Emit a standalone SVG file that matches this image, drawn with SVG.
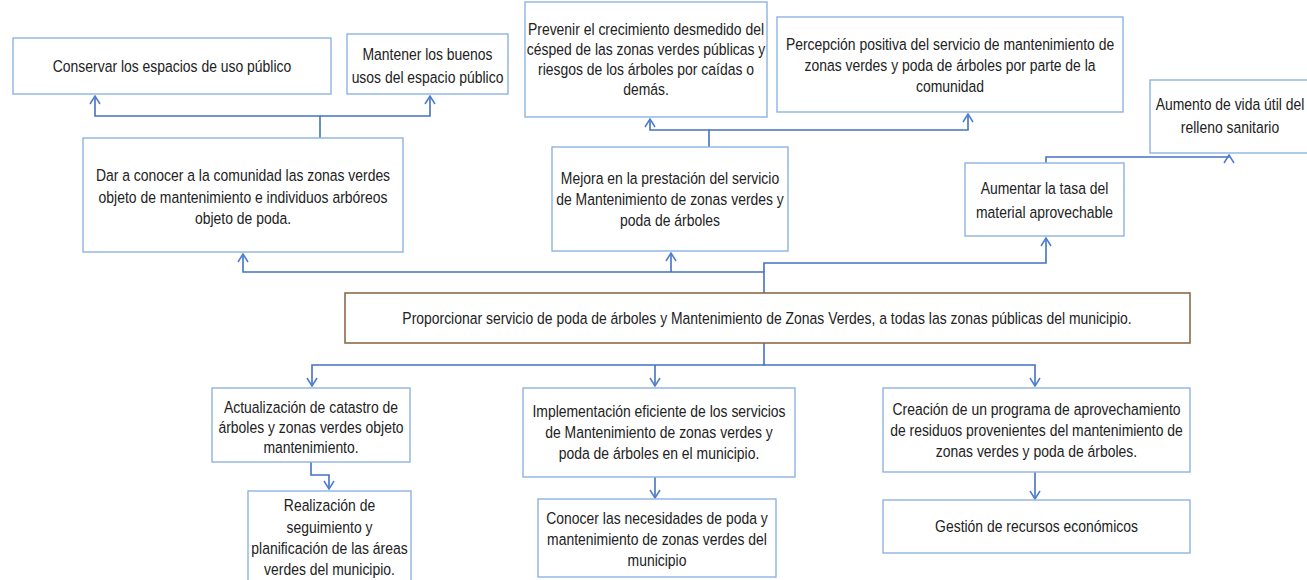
<svg xmlns="http://www.w3.org/2000/svg" width="1307" height="580" viewBox="0 0 1307 580">
<style>
.box{fill:#fff;stroke:#8DB3E2;stroke-width:1.4}
.main{fill:#fff;stroke:#8C6A4A;stroke-width:1.6}
text{font-family:"Liberation Sans Narrow","Liberation Sans",Arial,sans-serif;font-size:17px;fill:#222;text-anchor:middle}
.c{fill:none;stroke:#4472C4;stroke-width:1.6}
</style>
<defs>
<marker id="ah" viewBox="0 0 10 12" refX="9" refY="6" markerWidth="10" markerHeight="12" markerUnits="userSpaceOnUse" orient="auto">
<path d="M1,1 L9,6 L1,11" fill="none" stroke="#4A7BD0" stroke-width="1.5"/>
</marker>
</defs>
<rect width="1307" height="580" fill="#fff"/>
<g id="connectors">
<path class="c" d="M320,138 V116 H95 V96" marker-end="url(#ah)"/>
<path class="c" d="M320,116 H430 V96" marker-end="url(#ah)"/>
<path class="c" d="M709,147 V130 H650 V119" marker-end="url(#ah)"/>
<path class="c" d="M709,130 H968 V114" marker-end="url(#ah)"/>
<path class="c" d="M1046,163 V157 H1229 V155" marker-end="url(#ah)"/>
<path class="c" d="M764,293 V272 H243 V254" marker-end="url(#ah)"/>
<path class="c" d="M671,272 V253" marker-end="url(#ah)"/>
<path class="c" d="M764,272 V263 H1046 V238" marker-end="url(#ah)"/>
<path class="c" d="M764,343 V365 H312 V386" marker-end="url(#ah)"/>
<path class="c" d="M764,365 H1035 V386" marker-end="url(#ah)"/>
<path class="c" d="M655,365 V386" marker-end="url(#ah)"/>
<path class="c" d="M311,462 V475 H329 V489" marker-end="url(#ah)"/>
<path class="c" d="M655,477 V498" marker-end="url(#ah)"/>
<path class="c" d="M1035,472 V499" marker-end="url(#ah)"/>
</g>
<g id="n-conservar"><rect class="box" x="13" y="38" width="318" height="56"/><g transform="translate(172,0) scale(0.82,1)"><text x="0" y="72">Conservar los espacios de uso público</text></g></g>
<g id="n-mantener"><rect class="box" x="347" y="34" width="161" height="60"/><g transform="translate(427.5,0) scale(0.82,1)"><text x="0" y="60">Mantener los buenos</text><text x="0" y="83">usos del espacio público</text></g></g>
<g id="n-prevenir"><rect class="box" x="525" y="2" width="242" height="115"/><g transform="translate(646,0) scale(0.82,1)"><text x="0" y="35">Prevenir el crecimiento desmedido del</text><text x="0" y="55">césped de las zonas verdes públicas y</text><text x="0" y="75">riesgos de los árboles por caídas o</text><text x="0" y="95">demás.</text></g></g>
<g id="n-percepcion"><rect class="box" x="777" y="17" width="346" height="95"/><g transform="translate(950,0) scale(0.82,1)"><text x="0" y="50">Percepción positiva del servicio de mantenimiento de</text><text x="0" y="71">zonas verdes y poda de árboles por parte de la</text><text x="0" y="92">comunidad</text></g></g>
<g id="n-aumento"><rect class="box" x="1150" y="80" width="170" height="73"/><g transform="translate(1230,0) scale(0.82,1)"><text x="0" y="110">Aumento de vida útil del</text><text x="0" y="133">relleno sanitario</text></g></g>
<g id="n-aumentar"><rect class="box" x="965" y="163" width="159" height="73"/><g transform="translate(1044.5,0) scale(0.82,1)"><text x="0" y="194">Aumentar la tasa del</text><text x="0" y="218">material aprovechable</text></g></g>
<g id="n-dar"><rect class="box" x="83" y="138" width="320" height="114"/><g transform="translate(243,0) scale(0.82,1)"><text x="0" y="181">Dar a conocer a la comunidad las zonas verdes</text><text x="0" y="203">objeto de mantenimiento e individuos arbóreos</text><text x="0" y="224">objeto de poda.</text></g></g>
<g id="n-mejora"><rect class="box" x="552" y="147" width="236" height="104"/><g transform="translate(670,0) scale(0.82,1)"><text x="0" y="184">Mejora en la prestación del servicio</text><text x="0" y="205">de Mantenimiento de zonas verdes y</text><text x="0" y="226">poda de árboles</text></g></g>
<g id="n-central"><rect class="main" x="345" y="293" width="845" height="50"/><g transform="translate(767,0) scale(0.82,1)"><text x="0" y="324">Proporcionar servicio de poda de árboles y Mantenimiento de Zonas Verdes, a todas las zonas públicas del municipio.</text></g></g>
<g id="n-actualizacion"><rect class="box" x="212" y="388" width="198" height="74"/><g transform="translate(311,0) scale(0.82,1)"><text x="0" y="413">Actualización de catastro de</text><text x="0" y="433">árboles y zonas verdes objeto</text><text x="0" y="453">mantenimiento.</text></g></g>
<g id="n-realizacion"><rect class="box" x="248" y="491" width="163" height="95"/><g transform="translate(329.5,0) scale(0.82,1)"><text x="0" y="511">Realización de</text><text x="0" y="533">seguimiento y</text><text x="0" y="554">planificación de las áreas</text><text x="0" y="575">verdes del municipio.</text></g></g>
<g id="n-implementacion"><rect class="box" x="523" y="388" width="272" height="89"/><g transform="translate(659,0) scale(0.82,1)"><text x="0" y="417">Implementación eficiente de los servicios</text><text x="0" y="438">de Mantenimiento de zonas verdes y</text><text x="0" y="459">poda de árboles en el municipio.</text></g></g>
<g id="n-conocer"><rect class="box" x="538" y="499" width="238" height="78"/><g transform="translate(657,0) scale(0.82,1)"><text x="0" y="524">Conocer las necesidades de poda y</text><text x="0" y="545">mantenimiento de zonas verdes del</text><text x="0" y="566">municipio</text></g></g>
<g id="n-creacion"><rect class="box" x="883" y="388" width="307" height="84"/><g transform="translate(1036.5,0) scale(0.82,1)"><text x="0" y="415">Creación de un programa de aprovechamiento</text><text x="0" y="436">de residuos provenientes del mantenimiento de</text><text x="0" y="457">zonas verdes y poda de árboles.</text></g></g>
<g id="n-gestion"><rect class="box" x="883" y="500" width="307" height="53"/><g transform="translate(1036.5,0) scale(0.82,1)"><text x="0" y="532">Gestión de recursos económicos</text></g></g>
</svg>
